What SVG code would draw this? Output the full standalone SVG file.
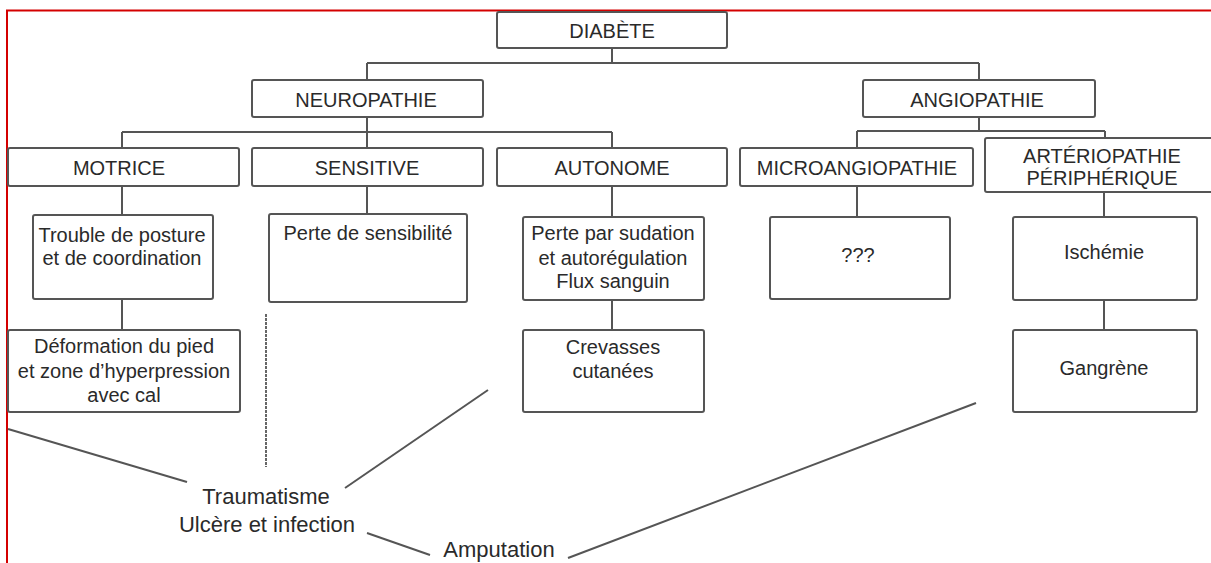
<svg xmlns="http://www.w3.org/2000/svg" width="1211" height="563" viewBox="0 0 1211 563">
<style>
.box{fill:#fff;stroke:#555;stroke-width:2}
.t{font-family:"Liberation Sans",Arial,sans-serif;font-size:20px;fill:#2a2a2a;text-anchor:middle}
.b{font-family:"Liberation Sans",Arial,sans-serif;font-size:22px;fill:#2a2a2a;text-anchor:middle}
.c{stroke:#555;stroke-width:2;fill:none}
.d{stroke:#666;stroke-width:2;fill:none;stroke-dasharray:3 1}
</style>
<rect width="1211" height="563" fill="#fff"/>
<g id="border"><path d="M7,563 V10.5 H1211" fill="none" stroke="#d40000" stroke-width="2"/></g>
<g id="connectors">
<path class="c" d="M612,48 V63 M367,63 H979 M367,63 V80 M979,63 V80"/>
<path class="c" d="M367,117 V148 M122,132 H612 M122,132 V148 M612,132 V148"/>
<path class="c" d="M979,117 V131 M857,131 H1105 M857,131 V148 M1105,131 V138"/>
<path class="c" d="M122,186 V215 M122,299 V330"/>
<path class="c" d="M367,186 V214"/>
<path class="c" d="M612,186 V217 M612,300 V330"/>
<path class="c" d="M857,186 V217"/>
<path class="c" d="M1104,192 V217 M1104,300 V330"/>
<path class="c" d="M8,429 L187,482"/>
<path class="d" d="M266,314 V467"/>
<path class="c" d="M488,390 L345,488"/>
<path class="c" d="M367,533 L430,555"/>
<path class="c" d="M568,558 L976,403"/>
</g>
<g id="diabete"><rect class="box" x="497" y="12" width="230" height="36" rx="2"/><text class="t" x="612" y="38">DIABÈTE</text></g>
<g id="neuropathie"><rect class="box" x="252" y="80" width="231" height="37" rx="2"/><text class="t" x="366" y="107">NEUROPATHIE</text></g>
<g id="angiopathie"><rect class="box" x="863" y="80" width="232" height="37" rx="2"/><text class="t" x="977" y="107">ANGIOPATHIE</text></g>
<g id="motrice"><rect class="box" x="8" y="148" width="231" height="38" rx="2"/><text class="t" x="119" y="175">MOTRICE</text></g>
<g id="sensitive"><rect class="box" x="252" y="148" width="231" height="38" rx="2"/><text class="t" x="367" y="175">SENSITIVE</text></g>
<g id="autonome"><rect class="box" x="497" y="148" width="230" height="38" rx="2"/><text class="t" x="612" y="175">AUTONOME</text></g>
<g id="microangiopathie"><rect class="box" x="740" y="148" width="233" height="38" rx="2"/><text class="t" x="857" y="175">MICROANGIOPATHIE</text></g>
<g id="arteriopathie"><rect class="box" x="985" y="138" width="240" height="54" rx="2"/><text class="t" x="1102" y="163">ARTÉRIOPATHIE</text><text class="t" x="1102" y="185">PÉRIPHÉRIQUE</text></g>
<g id="trouble"><rect class="box" x="33" y="215" width="180" height="84" rx="2"/><text class="t" x="122" y="242">Trouble de posture</text><text class="t" x="122" y="265">et de coordination</text></g>
<g id="deformation"><rect class="box" x="8" y="330" width="232" height="82" rx="2"/><text class="t" x="124" y="353">Déformation du pied</text><text class="t" x="124" y="378">et zone d’hyperpression</text><text class="t" x="124" y="402">avec cal</text></g>
<g id="perte-sensibilite"><rect class="box" x="269" y="214" width="198" height="88" rx="2"/><text class="t" x="368" y="240">Perte de sensibilité</text></g>
<g id="perte-sudation"><rect class="box" x="523" y="217" width="181" height="83" rx="2"/><text class="t" x="613" y="240">Perte par sudation</text><text class="t" x="613" y="265">et autorégulation</text><text class="t" x="613" y="288">Flux sanguin</text></g>
<g id="crevasses"><rect class="box" x="523" y="330" width="181" height="82" rx="2"/><text class="t" x="613" y="354">Crevasses</text><text class="t" x="613" y="378">cutanées</text></g>
<g id="inconnu"><rect class="box" x="770" y="217" width="180" height="82" rx="2"/><text class="t" x="858" y="262">???</text></g>
<g id="ischemie"><rect class="box" x="1013" y="217" width="184" height="83" rx="2"/><text class="t" x="1104" y="259">Ischémie</text></g>
<g id="gangrene"><rect class="box" x="1013" y="330" width="184" height="82" rx="2"/><text class="t" x="1104" y="375">Gangrène</text></g>
<g id="traumatisme"><text class="b" x="266" y="504">Traumatisme</text><text class="b" x="267" y="532">Ulcère et infection</text></g>
<g id="amputation"><text class="b" x="499" y="557">Amputation</text></g>
</svg>
